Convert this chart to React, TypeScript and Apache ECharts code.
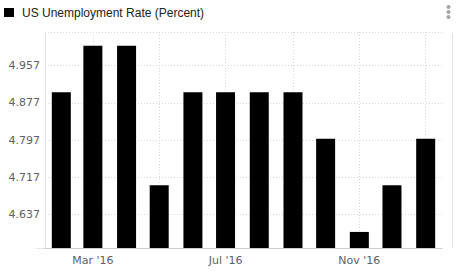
import React, { useEffect, useRef } from "react";
import * as echarts from "echarts";

// ---- data ----
const monthStarts: [number, number][] = [
  [2016, 1], [2016, 2], [2016, 3], [2016, 4], [2016, 5], [2016, 6],
  [2016, 7], [2016, 8], [2016, 9], [2016, 10], [2016, 11], [2017, 0],
];
const rates = [4.9, 5.0, 5.0, 4.7, 4.9, 4.9, 4.9, 4.9, 4.8, 4.6, 4.7, 4.8];
const gridMonths: [number, number][] = [
  [2016, 2], [2016, 4], [2016, 6], [2016, 8], [2016, 10], [2017, 0],
];
const labelMonths: [number, number][] = [[2016, 2], [2016, 6], [2016, 10]];
const yTickLabels = [4.637, 4.717, 4.797, 4.877, 4.957];
const seriesName = "US Unemployment Rate (Percent)";
const monthNames = ["Jan", "Feb", "Mar", "Apr", "May", "Jun", "Jul", "Aug", "Sep", "Oct", "Nov", "Dec"];

const ts = ([y, m]: [number, number], d = 1) => Date.UTC(y, m, d);

export default function App() {
  const ref = useRef<HTMLDivElement>(null);
  useEffect(() => {
    if (!ref.current) return;
    const chart = echarts.init(ref.current, null, { renderer: "svg" });
    const yMin = 4.5655;
    const yMax = 5.0294;
    const dotted = { color: "#d6d6d6", width: 1, type: [1, 2] as any };
    chart.setOption({
      animation: false,
      grid: { left: 45, right: 17, top: 32, bottom: 28, containLabel: false },
      xAxis: {
        type: "value",
        min: ts([2016, 0], 17),
        max: ts([2017, 0], 16),
        axisLine: { show: true, lineStyle: { color: "#cccccc", width: 1 } },
        axisTick: { show: false, customValues: gridMonths.map((m) => ts(m)) },
        axisLabel: {
          customValues: labelMonths.map((m) => ts(m)),
          color: "#606060",
          fontSize: 11,
          fontFamily: "DejaVu Sans",
          margin: 7,
          formatter: (v: number) => {
            const d = new Date(v);
            return monthNames[d.getUTCMonth()] + " '" + String(d.getUTCFullYear()).slice(2);
          },
        },
        splitLine: { show: true, lineStyle: dotted },
      },
      yAxis: {
        type: "value",
        min: yMin,
        max: yMax,
        axisLine: { show: false },
        axisTick: { show: false, customValues: [...yTickLabels, yMax] },
        axisLabel: {
          customValues: yTickLabels,
          color: "#606060",
          fontSize: 11,
          fontFamily: "DejaVu Sans",
          margin: 5,
          formatter: (v: number) => v.toFixed(3),
        },
        splitLine: { show: true, lineStyle: dotted },
      },
      series: [
        {
          name: seriesName,
          type: "bar",
          barWidth: 19,
          itemStyle: { color: "#000000" },
          data: monthStarts.map((m, i) => [ts(m), rates[i]]),
        },
      ],
      graphic: [
        { type: "rect", shape: { x: 4, y: 8, width: 10, height: 9 }, style: { fill: "#000" } },
        {
          type: "text",
          x: 22,
          y: 13,
          style: {
            text: seriesName,
            fontSize: 12,
            fontFamily: "Liberation Sans, Arial",
            fill: "#222",
            verticalAlign: "middle",
          },
        },
        { type: "circle", shape: { cx: 448.5, cy: 7, r: 2 }, style: { fill: "#a4a4a8" } },
        { type: "circle", shape: { cx: 448.5, cy: 12, r: 2 }, style: { fill: "#a4a4a8" } },
        { type: "circle", shape: { cx: 448.5, cy: 17, r: 2 }, style: { fill: "#a4a4a8" } },
        { type: "line", shape: { x1: 45.5, y1: 32, x2: 45.5, y2: 248 }, style: { stroke: "#e2e2e2", lineWidth: 1 } },
        { type: "line", shape: { x1: 452.5, y1: 33, x2: 452.5, y2: 248 }, style: { stroke: "#e2e2e2", lineWidth: 1 } },
        { type: "line", shape: { x1: 36, y1: 248.5, x2: 46, y2: 248.5 }, style: { stroke: "#e6e6e6", lineWidth: 1 } },
      ],
    });
    return () => chart.dispose();
  }, []);
  return (
    <div
      ref={ref}
      style={{ position: "fixed", left: 0, top: 0, width: 459, height: 276, background: "#fff" }}
    />
  );
}
